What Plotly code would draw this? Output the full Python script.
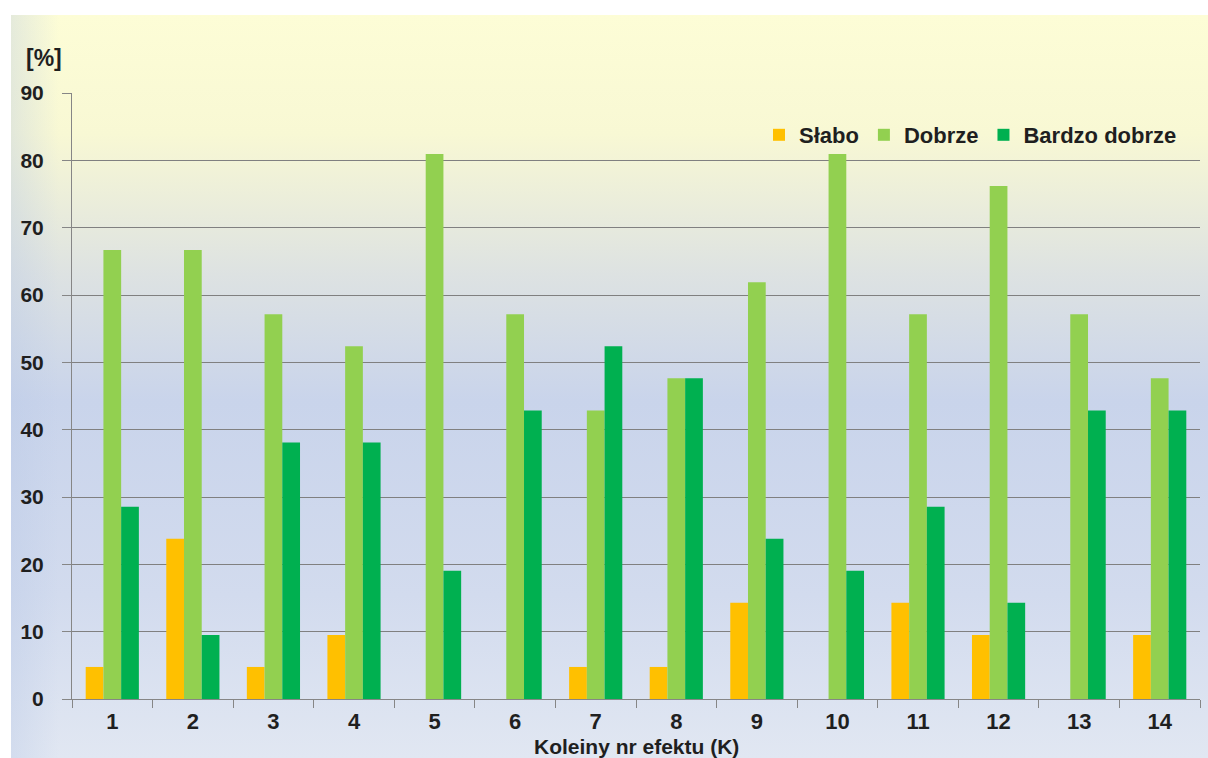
import base64
import plotly.graph_objects as go

# Survey results per effect (share of answers, %)
categories = [str(i) for i in range(1, 15)]
slabo = [4.76, 23.81, 4.76, 9.52, 0, 0, 4.76, 4.76, 14.29, 0, 14.29, 9.52, 0, 9.52]
dobrze = [66.67, 66.67, 57.14, 52.38, 80.95, 57.14, 42.86, 47.62, 61.90, 80.95, 57.14, 76.19, 57.14, 47.62]
bardzo_dobrze = [28.57, 9.52, 38.10, 38.10, 19.05, 42.86, 52.38, 47.62, 23.81, 19.05, 28.57, 14.29, 42.86, 42.86]
y_ticks = [0, 10, 20, 30, 40, 50, 60, 70, 80, 90]

series = [
    ("Słabo", slabo, "#FFC000"),
    ("Dobrze", dobrze, "#92D050"),
    ("Bardzo dobrze", bardzo_dobrze, "#00B050"),
]

FONT = "Liberation Sans, Arial, sans-serif"
TXT = "#1f1f1f"

W, H = 1208, 758
L, R, T, B = 72, 8, 93, 59
pw, ph = W - L - R, H - T - B

fig = go.Figure()
for name, vals, col in series:
    fig.add_trace(go.Bar(x=categories, y=vals, name=name, marker=dict(color=col, line=dict(width=0))))

# vertical gradient backdrop (pale yellow -> lavender blue -> light)
svg = (
    '<svg xmlns="http://www.w3.org/2000/svg" width="100" height="100" preserveAspectRatio="none">'
    '<defs><linearGradient id="g" x1="0" y1="0" x2="0" y2="1">'
    '<stop offset="0" stop-color="#FDFDD6"/>'
    '<stop offset="0.16" stop-color="#F8F8D4"/>'
    '<stop offset="0.35" stop-color="#DDE2E2"/>'
    '<stop offset="0.52" stop-color="#C9D4EB"/>'
    '<stop offset="0.78" stop-color="#D2DBEE"/>'
    '<stop offset="1" stop-color="#E1E7F2"/>'
    '</linearGradient>'
    '<linearGradient id="h" x1="0" y1="0" x2="1" y2="0">'
    '<stop offset="0" stop-color="#B8C8E6" stop-opacity="0.35"/>'
    '<stop offset="0.04" stop-color="#B8C8E6" stop-opacity="0"/>'
    '</linearGradient></defs>'
    '<rect width="100" height="100" fill="url(#g)"/>'
    '<rect width="100" height="100" fill="url(#h)"/></svg>'
)
src = "data:image/svg+xml;base64," + base64.b64encode(svg.encode()).decode()
x0, y0 = 11, 15
fig.add_layout_image(
    source=src, xref="paper", yref="paper",
    x=(x0 - L) / pw, y=(H - B - y0) / ph,
    sizex=(W - x0) / pw, sizey=(H - y0) / ph,
    xanchor="left", yanchor="top", sizing="stretch", layer="below",
)

# unit label above the value axis
fig.add_annotation(
    text="[%]", xref="paper", yref="paper",
    x=(24 - L) / pw, y=(H - B - 58) / ph, xanchor="left", yanchor="middle",
    showarrow=False, font=dict(family=FONT, size=23, color=TXT, weight="bold"),
)
# category axis title, tucked right under the tick labels
fig.add_annotation(
    text="Koleiny nr efektu (K)", xref="paper", yref="paper",
    x=0.5, y=(H - B - 733) / ph, xanchor="center", yanchor="top",
    showarrow=False, font=dict(family=FONT, size=21, color=TXT, weight="bold"),
)

fig.update_layout(
    width=W, height=H,
    margin=dict(l=L, r=R, t=T, b=B, autoexpand=False),
    paper_bgcolor="white",
    plot_bgcolor="rgba(0,0,0,0)",
    barmode="group",
    bargap=0.34,
    bargroupgap=0,
    font=dict(family=FONT, color=TXT),
    showlegend=True,
    legend=dict(
        orientation="h", x=(759 - L) / pw, xanchor="left",
        y=(H - B - 135) / ph, yanchor="middle",
        bgcolor="rgba(0,0,0,0)", itemwidth=30,
        font=dict(family=FONT, size=22, color=TXT, weight="bold"),
    ),
)

fig.update_xaxes(
    type="category",
    showline=True, linecolor="#868686", linewidth=1,
    ticks="outside", tickson="boundaries", ticklen=8, tickcolor="#868686",
    ticklabelstandoff=3,
    tickfont=dict(family=FONT, size=22, color=TXT, weight="bold"),
    showgrid=False,
    automargin=False,
)
fig.update_yaxes(
    range=[0, 90], tickvals=y_ticks,
    showline=True, linecolor="#868686", linewidth=1,
    ticks="outside", ticklen=9, tickcolor="#868686",
    ticklabelstandoff=14,
    tickfont=dict(family=FONT, size=21, color=TXT, weight="bold"),
    showgrid=True, gridcolor="#808080", gridwidth=1,
    zeroline=False,
    automargin=False,
)

fig.write_html("out.html")
